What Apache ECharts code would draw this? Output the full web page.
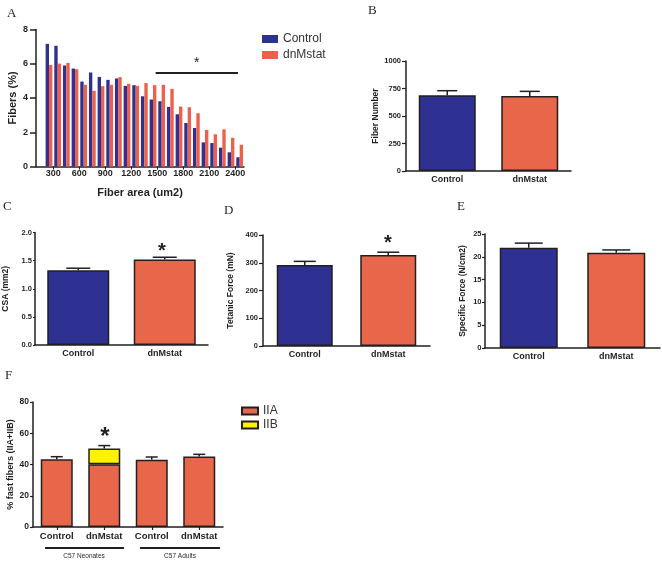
<!DOCTYPE html>
<html>
<head>
<meta charset="utf-8">
<script src="https://cdn.jsdelivr.net/npm/echarts@6/dist/echarts.min.js"></script>
<style>
html,body{margin:0;padding:0;background:#fff;}
#chart{width:662px;height:561px;}
</style>
</head>
<body>
<div id="chart"></div>
<script>
// ---- Panel A: fiber area histogram ----
const fiberBins = [250,350,450,550,650,750,850,950,1050,1150,1250,1350,1450,1550,1650,1750,1850,1950,2050,2150,2250,2350,2450];
const fiberControl = [7.16,7.05,5.90,5.72,4.96,5.49,5.23,5.06,5.14,4.71,4.75,4.10,3.91,3.81,3.48,3.05,2.54,2.25,1.41,1.37,1.10,0.83,0.54];
const fiberDnMstat = [5.93,6.01,6.05,5.68,4.77,4.42,4.69,4.77,5.22,4.83,4.71,4.87,4.75,4.77,4.53,3.50,3.46,3.11,2.13,1.88,2.17,1.68,1.27];
const fiberTicks = [300,600,900,1200,1500,1800,2100,2400];

// ---- Panels B-E: two groups ----
const groups = ['Control','dnMstat'];
const fiberNumber = [688, 682];
const fiberNumberSem = [42, 42];
const csa = [1.33, 1.52];
const csaSem = [0.035, 0.04];
const tetanicForce = [292, 328];
const tetanicForceSem = [13, 10];
const specificForce = [22.0, 20.9];
const specificForceSem = [1.0, 0.6];

// ---- Panel F: fast fibers ----
const fastLabels = ['Control','dnMstat','Control','dnMstat'];
const fastGroupNames = ['C57 Neonates','C57 Adults'];
const fastIIA = [43.3, 40.1, 43.1, 45.2];
const fastIIB = [null, 10.1, null, null];
const fastSem = [1.7, 1.9, 1.7, 1.3];

const FONT = "'Liberation Sans', Arial, Helvetica, sans-serif";
const SERIF = "'Liberation Serif', 'Times New Roman', serif";
const INK = '#231f20';
const BLUE = '#2e3192';
const RED = '#e8674b';
const A_BLUE = '#2d3190';
const A_RED = '#ee5f4c';
const YELLOW = '#fff200';

const chart = echarts.init(document.getElementById('chart'), null, {renderer:'canvas'});

function errRender(capW){
  return function(params, api){
    const x = api.value(0), y = api.value(1), e = api.value(2);
    const p0 = api.coord([x, y]);
    const p1 = api.coord([x, y + e]);
    const style = {stroke: INK, lineWidth: 1.5};
    return {type:'group', children:[
      {type:'line', shape:{x1:p0[0], y1:p0[1], x2:p1[0], y2:p1[1]}, style: style},
      {type:'line', shape:{x1:p1[0]-capW/2, y1:p1[1], x2:p1[0]+capW/2, y2:p1[1]}, style: style}
    ]};
  };
}

const axisLineStyle = {color: INK, width: 1.5};

const grids = [];
const xAxes = [];
const yAxes = [];
const series = [];

// Panel A
grids.push({left:36, top:29.5, width:208, height:137});
xAxes.push({
  gridIndex:0, type:'value', min:100, max:2500,
  axisLine:{show:true, onZero:false, lineStyle:axisLineStyle},
  axisTick:{show:true, length:3, customValues:fiberTicks, lineStyle:{color:INK, width:1}},
  axisLabel:{customValues:fiberTicks, fontSize:9, fontWeight:'bold', fontFamily:FONT, color:INK, margin:3,
    formatter:(v)=>String(v)},
  splitLine:{show:false},
  name:'Fiber area (um2)', nameLocation:'middle', nameGap:21,
  nameTextStyle:{fontSize:11, fontWeight:'bold', fontFamily:FONT, color:INK}
});
yAxes.push({
  gridIndex:0, type:'value', min:0, max:8, interval:2,
  axisLine:{show:true, onZero:false, lineStyle:axisLineStyle},
  axisTick:{show:true, length:6, lineStyle:{color:INK, width:1.5}},
  axisLabel:{fontSize:9, fontWeight:'bold', fontFamily:FONT, color:INK, margin:8},
  splitLine:{show:false},
  name:'Fibers (%)', nameLocation:'middle', nameGap:18,
  nameTextStyle:{fontSize:11, fontWeight:'bold', fontFamily:FONT, color:INK}
});
series.push({
  name:'Control', type:'bar', xAxisIndex:0, yAxisIndex:0,
  data: fiberBins.map((b,i)=>[b, fiberControl[i]]),
  itemStyle:{color:A_BLUE}, barGap:'0%', barCategoryGap:'22%',
  markLine:{
    silent:true, symbol:['none','none'],
    lineStyle:{color:INK, width:2, type:'solid'},
    label:{show:true, position:'middle', formatter:'*', fontSize:14, fontFamily:FONT, color:INK, distance:2},
    data:[[{coord:[1500,5.5]},{coord:[2450,5.5]}]]
  }
});
series.push({
  name:'dnMstat', type:'bar', xAxisIndex:0, yAxisIndex:0,
  data: fiberBins.map((b,i)=>[b, fiberDnMstat[i]]),
  itemStyle:{color:A_RED}, barGap:'0%', barCategoryGap:'22%'
});

// Panels B-E
const panels = [
  {grid:{left:406, top:61, width:165, height:110}, max:1000, interval:250, dec:0, values:fiberNumber, errs:fiberNumberSem, barWidth:57, name:'Fiber Number', nameGap:26, cap:20, tick:4, margin:5},
  {grid:{left:35, top:232.5, width:173, height:112.5}, max:2, interval:0.5, dec:1, values:csa, errs:csaSem, barWidth:62, name:'CSA (mm2)', nameGap:25, cap:24, tick:2, margin:3},
  {grid:{left:263, top:235, width:167, height:111}, max:400, interval:100, dec:0, values:tetanicForce, errs:tetanicForceSem, barWidth:56, name:'Tetanic Force (mN)', nameGap:28, cap:22, tick:4, margin:5},
  {grid:{left:485, top:234, width:175, height:114}, max:25, interval:5, dec:0, values:specificForce, errs:specificForceSem, barWidth:58, name:'Specific Force (N/cm2)', nameGap:18, cap:28, tick:3, margin:3.5}
];
panels.forEach((p, k) => {
  const gi = k + 1;
  grids.push(p.grid);
  xAxes.push({
    gridIndex:gi, type:'category', data:groups, boundaryGap:true,
    axisLine:{show:true, lineStyle:axisLineStyle},
    axisTick:{show:false},
    axisLabel:{fontSize:9, fontWeight:'bold', fontFamily:FONT, color:INK, margin:4}
  });
  yAxes.push({
    gridIndex:gi, type:'value', min:0, max:p.max, interval:p.interval,
    axisLine:{show:true, onZero:false, lineStyle:axisLineStyle},
    axisTick:{show:true, length:p.tick, lineStyle:{color:INK, width:1.2}},
    axisLabel:{fontSize:7.5, fontWeight:'bold', fontFamily:FONT, color:INK, margin:p.margin,
      formatter: (v)=> p.dec ? v.toFixed(p.dec) : String(v)},
    splitLine:{show:false},
    name:p.name, nameLocation:'middle', nameGap:p.nameGap,
    nameTextStyle:{fontSize:8.5, fontWeight:'bold', fontFamily:FONT, color:INK}
  });
  series.push({
    name:'panel'+gi, type:'bar', xAxisIndex:gi, yAxisIndex:gi, barWidth:p.barWidth,
    data: p.values.map((v,i)=>({value:v, itemStyle:{color: i===0 ? BLUE : RED}})),
    itemStyle:{borderColor:INK, borderWidth:1.5}
  });
  series.push({
    name:'err'+gi, type:'custom', xAxisIndex:gi, yAxisIndex:gi, z:3,
    renderItem: errRender(p.cap),
    encode:{x:0, y:1},
    data: p.values.map((v,i)=>[i, v, p.errs[i]])
  });
});

// Panel F
grids.push({left:33, top:402, width:190, height:125});
xAxes.push({
  gridIndex:5, type:'category', data:['n0','n1','a0','a1'], boundaryGap:true,
  axisLine:{show:true, lineStyle:axisLineStyle},
  axisTick:{show:true, alignWithLabel:true, length:3, lineStyle:{color:INK, width:1.2}},
  axisLabel:{fontSize:9.5, fontWeight:'bold', fontFamily:FONT, color:INK, margin:4, interval:0,
    formatter:(v, i)=>fastLabels[i]}
});
yAxes.push({
  gridIndex:5, type:'value', min:0, max:80, interval:20,
  axisLine:{show:true, onZero:false, lineStyle:axisLineStyle},
  axisTick:{show:true, length:3, lineStyle:{color:INK, width:1.2}},
  axisLabel:{fontSize:8.5, fontWeight:'bold', fontFamily:FONT, color:INK, margin:4},
  splitLine:{show:false},
  name:'% fast fibers (IIA+IIB)', nameLocation:'middle', nameGap:18,
  nameTextStyle:{fontSize:9, fontWeight:'bold', fontFamily:FONT, color:INK}
});
series.push({
  name:'IIA', type:'bar', stack:'fast', xAxisIndex:5, yAxisIndex:5, barWidth:32,
  data: fastIIA, itemStyle:{color:RED, borderColor:INK, borderWidth:1.5}
});
series.push({
  name:'IIB', type:'bar', stack:'fast', xAxisIndex:5, yAxisIndex:5, barWidth:32,
  data: fastIIB, itemStyle:{color:YELLOW, borderColor:INK, borderWidth:1.5}
});
series.push({
  name:'errF', type:'custom', xAxisIndex:5, yAxisIndex:5, z:3,
  renderItem: errRender(12),
  encode:{x:0, y:1},
  data: fastIIA.map((v,i)=>[i, v + (fastIIB[i] || 0), fastSem[i]])
});

function letter(t, x, y){
  return {type:'text', left:x, top:y, style:{text:t, font:'13px '+SERIF, fill:INK}};
}
function star(x, y, fs){
  return {type:'text', x:x, y:y, style:{text:'*', font:'bold '+fs+'px '+FONT, fill:INK, align:'center', verticalAlign:'middle'}};
}

const graphics = [
  letter('A', 7, 7), letter('B', 368, 4), letter('C', 3, 200), letter('D', 224, 204),
  letter('E', 457, 200), letter('F', 5, 369),
  star(162, 251, 20), star(388, 243, 20), star(105, 437, 24),
  {type:'line', shape:{x1:45, y1:548, x2:124, y2:548}, style:{stroke:INK, lineWidth:2}},
  {type:'line', shape:{x1:140, y1:548, x2:220, y2:548}, style:{stroke:INK, lineWidth:2}},
  {type:'text', x:84, y:556, style:{text:fastGroupNames[0], font:'6.5px '+FONT, fill:INK, align:'center', verticalAlign:'middle'}},
  {type:'text', x:180, y:556, style:{text:fastGroupNames[1], font:'6.5px '+FONT, fill:INK, align:'center', verticalAlign:'middle'}}
];

chart.setOption({
  animation:false,
  backgroundColor:'#ffffff',
  grid: grids,
  xAxis: xAxes,
  yAxis: yAxes,
  legend: [
    {data:['Control','dnMstat'], orient:'vertical', left:257, top:28, itemWidth:16, itemHeight:8, itemGap:4,
     icon:'rect', textStyle:{fontSize:12, fontFamily:FONT, color:'#333'}},
    {data:['IIA','IIB'], orient:'vertical', left:236, top:400, itemWidth:16, itemHeight:7, itemGap:2,
     icon:'rect', textStyle:{fontSize:12, fontFamily:FONT, color:'#333'}}
  ],
  series: series,
  graphic: graphics
});
</script>
</body>
</html>
